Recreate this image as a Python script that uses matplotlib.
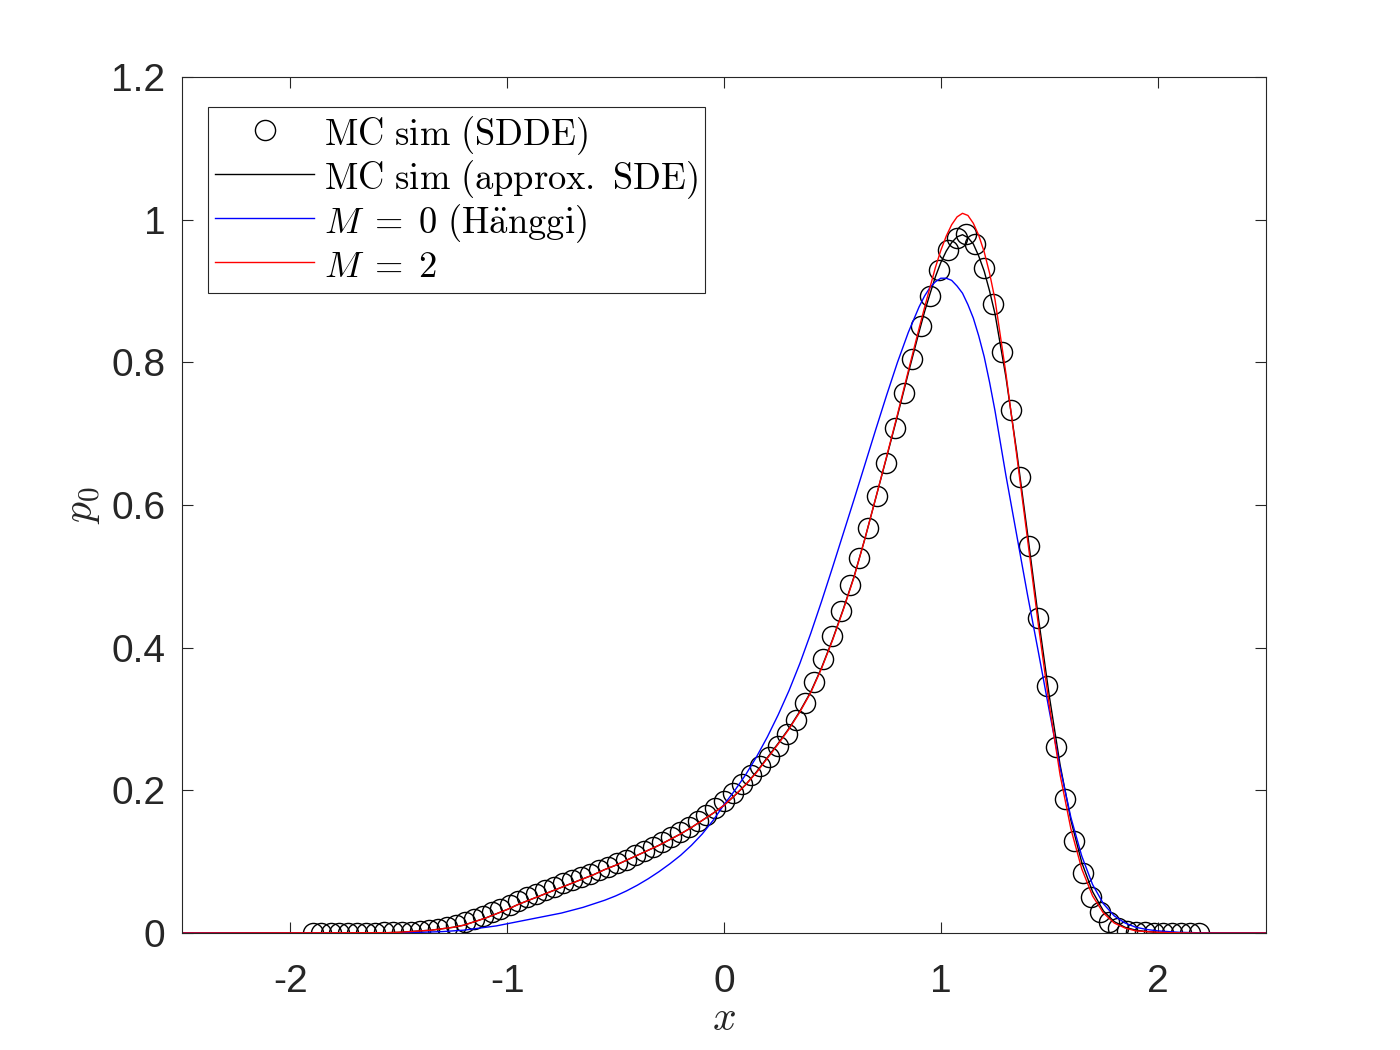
import matplotlib
matplotlib.use('Agg')
import matplotlib.pyplot as plt

# ---------------- data ----------------
# MC simulation of the SDDE (histogram bin centres and densities)
sdde_x = [-1.898, -1.857, -1.815, -1.774, -1.733, -1.692, -1.650, -1.609, -1.568, -1.526,
          -1.485, -1.444, -1.402, -1.361, -1.320, -1.279, -1.237, -1.196, -1.155, -1.113,
          -1.072, -1.031, -0.989, -0.948, -0.907, -0.866, -0.824, -0.783, -0.742, -0.700,
          -0.659, -0.618, -0.576, -0.535, -0.494, -0.453, -0.411, -0.370, -0.329, -0.287,
          -0.246, -0.205, -0.163, -0.122, -0.081, -0.040, 0.002, 0.043, 0.084, 0.126,
          0.167, 0.208, 0.250, 0.291, 0.332, 0.374, 0.415, 0.456, 0.497, 0.539,
          0.580, 0.621, 0.663, 0.704, 0.745, 0.787, 0.828, 0.869, 0.910, 0.952,
          0.993, 1.034, 1.076, 1.117, 1.158, 1.200, 1.241, 1.282, 1.323, 1.365,
          1.406, 1.447, 1.489, 1.530, 1.571, 1.613, 1.654, 1.695, 1.736, 1.778,
          1.819, 1.860, 1.902, 1.943, 1.984, 2.025, 2.067, 2.108, 2.149, 2.191]
sdde_p = [0, 0, 0, 0, 0, 0, 0, 0, 0.001, 0.001,
          0.001, 0.002, 0.003, 0.004, 0.006, 0.008, 0.011, 0.015, 0.019, 0.024,
          0.029, 0.034, 0.039, 0.045, 0.050, 0.055, 0.060, 0.065, 0.070, 0.074,
          0.079, 0.083, 0.088, 0.093, 0.098, 0.103, 0.109, 0.115, 0.121, 0.127,
          0.134, 0.141, 0.148, 0.157, 0.165, 0.175, 0.185, 0.197, 0.209, 0.221,
          0.234, 0.247, 0.262, 0.279, 0.299, 0.323, 0.352, 0.384, 0.416, 0.452,
          0.488, 0.526, 0.568, 0.613, 0.659, 0.708, 0.757, 0.805, 0.851, 0.893,
          0.930, 0.958, 0.974, 0.980, 0.966, 0.933, 0.882, 0.814, 0.733, 0.640,
          0.542, 0.442, 0.347, 0.261, 0.188, 0.129, 0.084, 0.051, 0.029, 0.015,
          0.007, 0.003, 0.001, 0.001, 0, 0, 0, 0, 0, 0]

# common abscissa for the continuous curves
curve_x = [-2.5,
           -1.55, -1.50, -1.45, -1.40, -1.35, -1.30, -1.25, -1.20, -1.15, -1.10,
           -1.05, -1.00, -0.95, -0.90, -0.85, -0.80, -0.75, -0.70, -0.65, -0.60,
           -0.55, -0.50, -0.45, -0.40, -0.35, -0.30, -0.25, -0.20, -0.15, -0.10,
           -0.05, 0.00, 0.05, 0.10, 0.15, 0.20, 0.25, 0.30, 0.35, 0.40,
           0.45, 0.50, 0.55, 0.60, 0.65, 0.70, 0.75, 0.80, 0.85, 0.90,
           0.925, 0.95, 0.975, 1.00, 1.025, 1.05, 1.075, 1.10, 1.125, 1.15,
           1.175, 1.20, 1.225, 1.25, 1.30, 1.35, 1.40,
           1.45, 1.50, 1.55, 1.60, 1.65, 1.70, 1.75, 1.80, 1.85, 1.90,
           1.95, 2.00,
           2.10, 2.20, 2.50]

# MC simulation of approximate SDE
sde_p = [0.0,
         0.0005, 0.001, 0.002, 0.003, 0.004, 0.006, 0.008, 0.011, 0.016, 0.021,
         0.027, 0.033, 0.040, 0.046, 0.052, 0.058, 0.064, 0.070, 0.076, 0.082,
         0.089, 0.095, 0.102, 0.109, 0.116, 0.123, 0.131, 0.139, 0.148, 0.158,
         0.168, 0.179, 0.193, 0.208, 0.226, 0.246, 0.266, 0.287, 0.311, 0.338,
         0.372, 0.411, 0.454, 0.500, 0.553, 0.610, 0.667, 0.725, 0.785, 0.843,
         0.871, 0.896, 0.920, 0.940, 0.956, 0.968, 0.976, 0.979, 0.975, 0.966,
         0.949, 0.928, 0.900, 0.868, 0.780, 0.675, 0.560,
         0.442, 0.333, 0.236, 0.158, 0.099, 0.058, 0.031, 0.016, 0.008, 0.004,
         0.002, 0.001,
         0.0003, 0.0, 0.0]

# M = 0 (Hanggi)
m0_p = [0.0,
        0.0, 0.0002, 0.0005, 0.001, 0.0015, 0.002, 0.003, 0.004, 0.006, 0.008,
        0.010, 0.013, 0.016, 0.019, 0.022, 0.025, 0.028, 0.032, 0.036, 0.041,
        0.046, 0.052, 0.059, 0.067, 0.076, 0.086, 0.097, 0.109, 0.123, 0.139,
        0.158, 0.180, 0.200, 0.222, 0.247, 0.275, 0.306, 0.340, 0.378, 0.420,
        0.465, 0.512, 0.560, 0.608, 0.657, 0.706, 0.754, 0.800, 0.842, 0.878,
        0.893, 0.905, 0.913, 0.918, 0.918, 0.915, 0.907, 0.897, 0.881, 0.862,
        0.837, 0.808, 0.772, 0.732, 0.642, 0.558, 0.474,
        0.394, 0.312, 0.232, 0.162, 0.108, 0.068, 0.041, 0.024, 0.014, 0.008,
        0.005, 0.003,
        0.001, 0.0003, 0.0]

# M = 2
m2_p = [0.0,
        0.0005, 0.001, 0.002, 0.003, 0.004, 0.006, 0.008, 0.011, 0.016, 0.021,
        0.027, 0.033, 0.040, 0.046, 0.052, 0.058, 0.064, 0.070, 0.076, 0.082,
        0.089, 0.095, 0.102, 0.109, 0.116, 0.123, 0.131, 0.139, 0.148, 0.158,
        0.168, 0.179, 0.193, 0.208, 0.225, 0.245, 0.265, 0.286, 0.310, 0.337,
        0.371, 0.410, 0.453, 0.499, 0.553, 0.610, 0.668, 0.727, 0.788, 0.848,
        0.877, 0.905, 0.933, 0.957, 0.977, 0.993, 1.004, 1.009, 1.006, 0.995,
        0.978, 0.955, 0.925, 0.888, 0.785, 0.670, 0.552,
        0.432, 0.320, 0.222, 0.146, 0.090, 0.052, 0.028, 0.014, 0.007, 0.003,
        0.002, 0.001,
        0.0003, 0.0, 0.0]

labels = [r'$\mathrm{MC\ sim\ (SDDE)}$',
          r'$\mathrm{MC\ sim\ (approx.\ SDE)}$',
          r'$M\;=\;0\ \mathrm{(H\ddot{a}nggi)}$',
          r'$M\;=\;2$']

x_ticks = [-2, -1, 0, 1, 2]
x_ticklabels = ['-2', '-1', '0', '1', '2']
y_ticks = [0, 0.2, 0.4, 0.6, 0.8, 1.0, 1.2]
y_ticklabels = ['0', '0.2', '0.4', '0.6', '0.8', '1', '1.2']

# ---------------- plot ----------------
plt.rcParams['mathtext.fontset'] = 'cm'
plt.rcParams['font.family'] = ['Liberation Sans', 'DejaVu Sans']
axcol = '#262626'

fig = plt.figure(figsize=(14, 10.5), dpi=100)
ax = fig.add_axes([0.13, 0.1114, 0.7743, 0.8152])

ax.plot(sdde_x, sdde_p, linestyle='none', marker='o', ms=14.5, mfc='none',
        mec='k', mew=1.0, label=labels[0])
ax.plot(curve_x, sde_p, color='k', lw=1.0, label=labels[1])
ax.plot(curve_x, m0_p, color='b', lw=1.0, label=labels[2])
ax.plot(curve_x, m2_p, color='r', lw=1.0, label=labels[3])

ax.set_xlim(-2.5, 2.5)
ax.set_ylim(0, 1.2)
ax.set_xticks(x_ticks)
ax.set_xticklabels(x_ticklabels)
ax.set_yticks(y_ticks)
ax.set_yticklabels(y_ticklabels)

ax.tick_params(axis='both', direction='in', length=8, width=0.8, top=True,
               right=True, labelsize=28, colors=axcol, labelcolor=axcol)
ax.tick_params(axis='x', pad=22)
ax.tick_params(axis='y', pad=12)
for s in ax.spines.values():
    s.set_color(axcol)
    s.set_linewidth(0.8)

fig.text(724 / 1400, 1 - 1030 / 1050, r'$x$', fontsize=30, ha='center',
         va='baseline', color=axcol)
fig.text(82 / 1400, 1 - 505 / 1050, r'$p_0$', fontsize=30, ha='center',
         va='center', rotation=90, color=axcol)

leg = ax.legend(loc='upper left', bbox_to_anchor=(0.024, 0.965),
                borderaxespad=0, fontsize=26.3, frameon=True, fancybox=False,
                edgecolor=axcol, framealpha=1, handlelength=2.7,
                handleheight=1.17, handletextpad=0.27, labelspacing=0.035,
                borderpad=0.2, numpoints=1)
leg.get_frame().set_linewidth(0.8)

fig.savefig('out.png', dpi=100)
